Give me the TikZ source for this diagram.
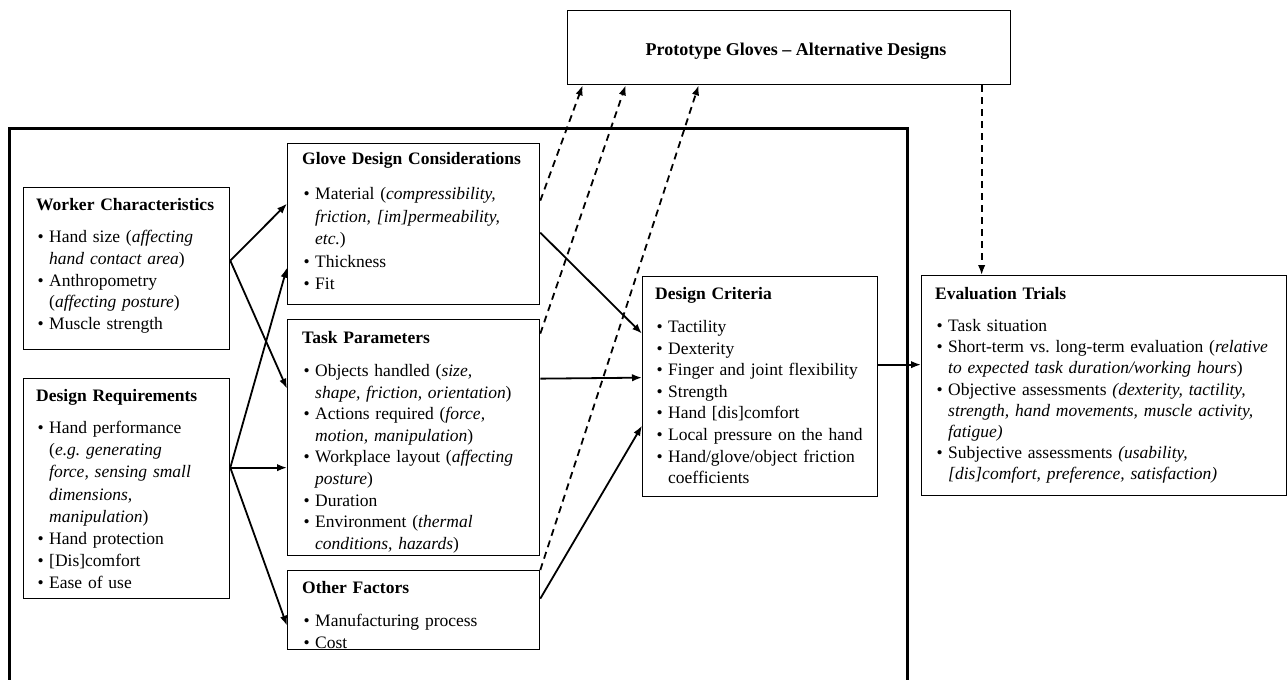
\documentclass[tikz,border=0pt]{standalone}
\usepackage{fontspec}
\setmainfont{Liberation Serif}
\usetikzlibrary{arrows.meta,calc}
\newcommand{\bl}[1]{\noindent\hangindent=13pt\hangafter=1\makebox[13pt][l]{\hspace{1.5pt}\textbullet}#1\par}
\newcommand{\nl}{\newline}
\newcommand{\ttl}[2][11.5pt]{{\bfseries #2}\par\vspace{#1}}
\begin{document}
\begin{tikzpicture}[x=1pt,y=-1pt,
  box/.style={draw,line width=1.3pt,anchor=north west,inner sep=0pt},
  txt/.style={anchor=north west,inner sep=0pt,align=left,text width=#1,
    font=\fontsize{17.5}{21.6}\selectfont},
  arr/.style={line width=1.8pt,-{Latex[length=10pt,width=7.5pt]}},
  darr/.style={arr,dash pattern=on 7pt off 5pt}]
\useasboundingbox (0,0) rectangle (1288,680);
\fill[white] (0,0) rectangle (1288,680);
% big frame
\draw[line width=3pt] (9,681) -- (9,128) -- (907,128) -- (907,681);
% boxes
\node[box,minimum width=443pt,minimum height=74pt] (pg) at (567,10) {};
\node[box,minimum width=206pt,minimum height=162pt] (wc) at (23,187) {};
\node[box,minimum width=206pt,minimum height=220pt] (dr) at (23,378) {};
\node[box,minimum width=252pt,minimum height=161pt] (gd) at (287,143) {};
\node[box,minimum width=252pt,minimum height=236pt] (tp) at (287,319) {};
\node[box,minimum width=252pt,minimum height=79pt] (of) at (287,570) {};
\node[box,minimum width=235pt,minimum height=220pt] (dc) at (642,276) {};
\node[box,minimum width=365pt,minimum height=220pt] (et) at (921,275) {};
% texts
\node[anchor=center,inner sep=0pt,font=\fontsize{18}{20}\selectfont\bfseries] (pgt) at (796,51) {Prototype Gloves -- Alternative Designs};
\node[txt=195pt] (wct) at (36,198) {\ttl[11pt]{Worker Characteristics}%
  \bl{Hand size (\textit{affecting}\nl \textit{hand contact area})}%
  \bl{Anthropometry\nl (\textit{affecting posture})}%
  \bl{Muscle strength}};
\node[txt=195pt,font=\fontsize{17.5}{22.2}\selectfont] (drt) at (36,389) {\ttl[10pt]{Design Requirements}%
  \bl{Hand performance\nl (\textit{e.g.\ generating}\nl \textit{force, sensing small}\nl \textit{dimensions,}\nl \textit{manipulation})}%
  \bl{Hand protection}%
  \bl{[Dis]comfort}%
  \bl{Ease of use}};
\node[txt=240pt,font=\fontsize{17.5}{22.5}\selectfont] (gdt) at (302,152) {\ttl[13pt]{Glove Design Considerations}%
  \bl{Material (\textit{compressibility,}\nl \textit{friction, [im]permeability,}\nl \textit{etc.})}%
  \bl{Thickness}%
  \bl{Fit}};
\node[txt=240pt] (tpt) at (302,331) {\ttl{Task Parameters}%
  \bl{Objects handled (\textit{size,}\nl \textit{shape, friction, orientation})}%
  \bl{Actions required (\textit{force,}\nl \textit{motion, manipulation})}%
  \bl{Workplace layout (\textit{affecting}\nl \textit{posture})}%
  \bl{Duration}%
  \bl{Environment (\textit{thermal}\nl \textit{conditions, hazards})}};
\node[txt=240pt] (oft) at (302,581) {\ttl[12pt]{Other Factors}%
  \bl{Manufacturing process}%
  \bl{Cost}};
\node[txt=225pt] (dct) at (655,287) {\ttl{Design Criteria}%
  \bl{Tactility}%
  \bl{Dexterity}%
  \bl{Finger and joint flexibility}%
  \bl{Strength}%
  \bl{Hand [dis]comfort}%
  \bl{Local pressure on the hand}%
  \bl{Hand/glove/object friction\nl coefficients}};
\node[txt=350pt,font=\fontsize{17.5}{21.2}\selectfont] (ett) at (935,287) {\ttl[11pt]{Evaluation Trials}%
  \bl{Task situation}%
  \bl{Short-term vs.\ long-term evaluation (\textit{relative}\nl \textit{to expected task duration/working hours})}%
  \bl{Objective assessments \textit{(dexterity, tactility,}\nl \textit{strength, hand movements, muscle activity,}\nl \textit{fatigue)}}%
  \bl{Subjective assessments \textit{(usability,}\nl \textit{[dis]comfort, preference, satisfaction)}}};
% solid arrows
\draw[arr] ([yshift=8pt]wc.east) -- ([yshift=20.5pt]gd.west);
\draw[arr] ([yshift=8pt]wc.east) -- ([yshift=49pt]tp.west);
\draw[arr] ([yshift=21pt]dr.east) -- ([yshift=-43.5pt]gd.west);
\draw[arr] ([yshift=21pt]dr.east) -- ([yshift=-30pt]tp.west);
\draw[arr] ([yshift=21pt]dr.east) -- ([yshift=-15.5pt]of.west);
\draw[arr] ([yshift=-8.5pt]gd.east) -- ([yshift=53pt]dc.west);
\draw[arr] ([yshift=59pt]tp.east) -- ([yshift=9pt]dc.west);
\draw[arr] ([yshift=11.5pt]of.east) -- ([yshift=-39pt]dc.west);
\draw[arr] ([yshift=22pt]dc.east) -- ([yshift=22pt]dc.east -| et.west);
% dashed arrows
\draw[darr] ([xshift=192.5pt]pg.south) -- ([xshift=192.5pt]pg.south |- et.north);
\draw[darr] ([yshift=23.5pt]gd.east) -- ([xshift=-206.5pt]pg.south);
\draw[darr] ([yshift=104pt]tp.east) -- ([xshift=-163.5pt]pg.south);
\draw[darr] (of.north east) -- ([xshift=-90.5pt]pg.south);
\end{tikzpicture}
\end{document}
